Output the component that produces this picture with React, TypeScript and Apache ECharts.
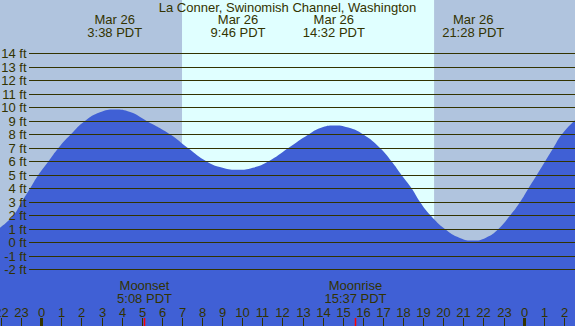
import React, { useEffect, useRef } from 'react';
import * as echarts from 'echarts';

const chartTitle = 'La Conner, Swinomish Channel, Washington';

// Tide height (ft), by hour of Mar 26 (negative = Mar 25, >24 = Mar 27)
const tideHours = [-2.075, -1.41, -1.0, -0.58, -0.17, 0.33, 0.83, 1.44, 2.15, 2.9, 3.63, 4.4, 5.22, 6.4, 7.27, 8.21, 9.0, 9.77, 10.5, 11.27, 12.27, 13.27, 13.9, 14.53, 15.25, 16.0, 16.83, 17.41, 17.9, 18.41, 18.82, 19.35, 20.06, 20.8, 21.47, 22.1, 22.72, 23.3, 23.8, 24.21, 24.63, 25.04, 25.45, 25.87, 26.53];
const tideFeet = [1.1, 2, 3, 4, 5, 6, 7, 8, 9, 9.64, 9.85, 9.66, 9, 8, 7, 6, 5.53, 5.38, 5.53, 6, 7, 8, 8.5, 8.67, 8.51, 8, 7, 6, 5, 4, 3, 2, 1, 0.34, 0.15, 0.36, 1, 2, 3, 4, 5, 6, 7, 8, 9.05];

const depthTicks = [-2, -1, 0, 1, 2, 3, 4, 5, 6, 7, 8, 9, 10, 11, 12, 13, 14];
const hourTicks = [-2, -1, 0, 1, 2, 3, 4, 5, 6, 7, 8, 9, 10, 11, 12, 13, 14, 15, 16, 17, 18, 19, 20, 21, 22, 23, 24, 25, 26];
const midnightTicks = [0, 24];

const eventHours = [3.633, 9.767, 14.533, 21.467];
const eventDates = ['Mar 26', 'Mar 26', 'Mar 26', 'Mar 26'];
const eventTimes = ['3:38 PDT', '9:46 PDT', '14:32 PDT', '21:28 PDT'];

const moonHours = [5.133, 15.617];
const moonNames = ['Moonset', 'Moonrise'];
const moonTimes = ['5:08 PDT', '15:37 PDT'];

const daylight = [6.98, 19.52];
const hourRange = [-2.075, 26.53];
const feetRange = [-6.185, 17.963];
const lineStartHour = -0.63;

const FONT = "'Liberation Sans', Arial, sans-serif";
const INK = '#333300';
const NIGHT = '#b0c4de';
const DAY = '#e0ffff';
const WATER = '#4060d5';

const crisp = (x: number) => Math.round(x - 0.5) + 0.5;

export default function App() {
  const ref = useRef<HTMLDivElement>(null);
  useEffect(() => {
    const chart = echarts.init(ref.current!, null, { renderer: 'svg' });
    const textEl = (text: string, x: number, y: number) => ({
      type: 'text',
      x, y,
      style: { text, align: 'center', verticalAlign: 'middle', fontSize: 13, lineHeight: 13, fontFamily: FONT, fill: INK },
    });
    chart.setOption({
      animation: false,
      backgroundColor: NIGHT,
      title: {
        text: chartTitle,
        left: 'center',
        top: 0.5,
        padding: 0,
        textStyle: { fontSize: 13, fontWeight: 'normal', color: INK, fontFamily: FONT },
      },
      grid: { left: 0, right: 0, top: 0, bottom: 0, containLabel: false, outerBoundsMode: 'none' },
      xAxis: {
        type: 'value', min: hourRange[0], max: hourRange[1],
        splitLine: { show: false }, axisLine: { show: false }, axisTick: { show: false }, axisLabel: { show: false },
      },
      yAxis: { type: 'value', min: feetRange[0], max: feetRange[1], show: false },
      series: [
        {
          type: 'line', z: 1, data: [], silent: true,
          markArea: {
            silent: true,
            itemStyle: { color: DAY },
            data: [[{ xAxis: daylight[0] }, { xAxis: daylight[1] }]],
          },
        },
        {
          type: 'line', z: 2, smooth: 0.5, symbol: 'none', silent: true,
          data: tideHours.map((h, i) => [h, tideFeet[i]]),
          lineStyle: { width: 0 },
          areaStyle: { color: WATER, opacity: 1, origin: 'start' },
        },
        {
          type: 'line', z: 3, data: [], silent: true,
          markLine: {
            silent: true,
            symbol: ['none', 'none'],
            lineStyle: { color: INK, width: 1, type: 'solid' },
            label: { show: true, position: 'start', distance: 2.5, formatter: '{b}', color: INK, fontSize: 13, fontFamily: FONT },
            data: depthTicks.map((v) => [
              { coord: [lineStartHour, v], name: `${v} ft` },
              { coord: [hourRange[1], v] },
            ]),
          },
        },
        {
          type: 'custom', z: 4, silent: true,
          data: hourTicks.map((h) => [h]),
          encode: { x: 0 },
          renderItem: (params: any, api: any) => {
            const h = api.value(0);
            const x = crisp(api.coord([h, 0])[0]);
            const label = String(((Math.round(h) % 24) + 24) % 24);
            return {
              type: 'group',
              children: [
                { type: 'line', shape: { x1: x, y1: 318, x2: x, y2: 326 }, style: { stroke: INK, lineWidth: 1 } },
                textEl(label, x, 312.5),
              ],
            };
          },
        },
        {
          type: 'custom', z: 5, silent: true,
          data: midnightTicks.map((h) => [h]),
          encode: { x: 0 },
          renderItem: (params: any, api: any) => {
            const x = crisp(api.coord([api.value(0), 0])[0]);
            return { type: 'line', shape: { x1: x, y1: 318, x2: x, y2: 326 }, style: { stroke: INK, lineWidth: 3 } };
          },
        },
        {
          type: 'custom', z: 5, silent: true,
          data: moonHours.map((h, i) => [h, i]),
          encode: { x: 0 },
          renderItem: (params: any, api: any) => {
            const x = crisp(api.coord([api.value(0), 0])[0]);
            const i = api.value(1);
            return {
              type: 'group',
              children: [
                { type: 'line', shape: { x1: x, y1: 318, x2: x, y2: 326 }, style: { stroke: '#ff0000', lineWidth: 1.5 } },
                textEl(moonNames[i] + '\n' + moonTimes[i], x, 292.3),
              ],
            };
          },
        },
        {
          type: 'custom', z: 5, silent: true,
          data: eventHours.map((h, i) => [h, i]),
          encode: { x: 0 },
          renderItem: (params: any, api: any) => {
            const x = api.coord([api.value(0), 0])[0];
            const i = api.value(1);
            return textEl(eventDates[i] + '\n' + eventTimes[i], x, 26);
          },
        },
      ],
    });
    return () => chart.dispose();
  }, []);
  return <div ref={ref} style={{ position: 'fixed', left: 0, top: 0, width: 575, height: 326 }} />;
}
